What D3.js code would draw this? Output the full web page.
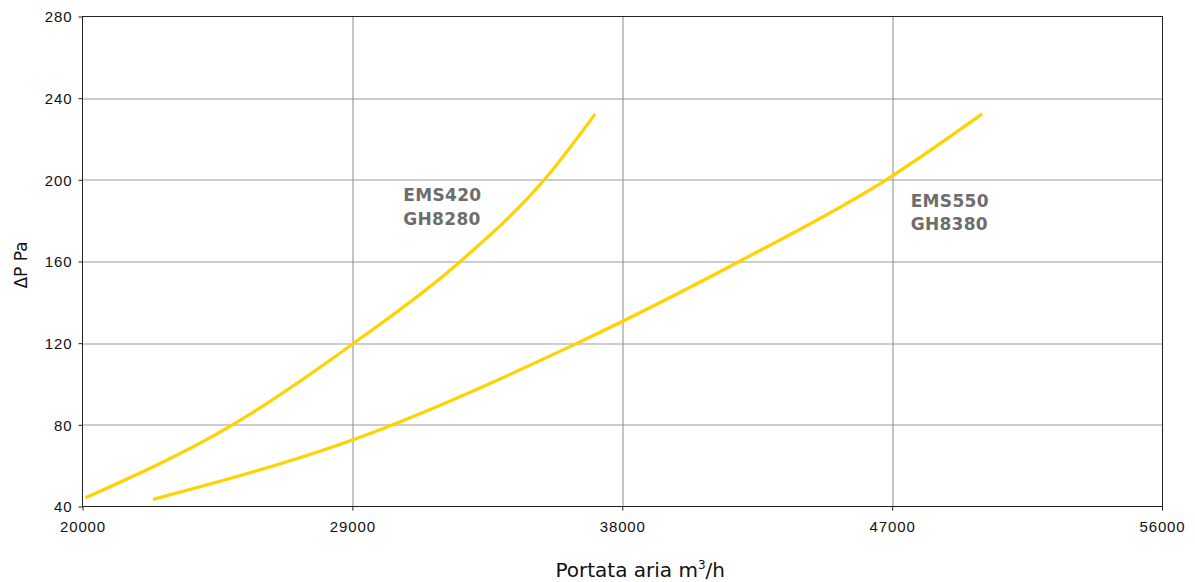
<!DOCTYPE html>
<html>
<head>
<meta charset="utf-8">
<script src="https://cdn.jsdelivr.net/npm/d3@7"></script>
<style>
  body { margin: 0; background: #fff; }
  svg { display: block; font-family: "DejaVu Sans", sans-serif; }
</style>
</head>
<body>
<div id="grafico"></div>
<script>
// valori
const xTicks = [20000, 29000, 38000, 47000, 56000];
const yTicks = [40, 80, 120, 160, 200, 240, 280];

const ems420Portata = [20100, 25000, 29000, 32600, 35400, 37100];
const ems420Dp      = [44.3, 80, 119.5, 160, 200, 232.3];

const ems550Portata = [22350, 29000, 36500, 41900, 46800, 50000];
const ems550Dp      = [43.5, 72.6, 120, 160, 200, 232.3];

const etichette = [
    { righe: ["EMS420", "GH8280"], x: 30700, y: 189.4 },
    { righe: ["EMS550", "GH8380"], x: 47620, y: 186.9 }
];

function crtaj() {
    const margin = { top: 16.5, right: 33, bottom: 75.5, left: 82.5 };
    const W = 1195, H = 582;
    const width = W - margin.left - margin.right;
    const height = H - margin.top - margin.bottom;

    const svg = d3.select("#grafico").append("svg")
        .attr("width", W)
        .attr("height", H)
        .append("g")
        .attr("transform", "translate(" + margin.left + "," + margin.top + ")");

    const x = d3.scaleLinear().domain([20000, 56000]).range([0, width]);
    const y = d3.scaleLinear().domain([40, 280]).range([height, 0]);

    // griglia
    svg.append("g").selectAll("line")
        .data(yTicks.slice(1, -1))
        .enter().append("line")
        .attr("x1", 0).attr("x2", width)
        .attr("y1", d => Math.round(y(d)) + 0.5)
        .attr("y2", d => Math.round(y(d)) + 0.5)
        .attr("stroke", "#9a9a9a");

    svg.append("g").selectAll("line")
        .data(xTicks.slice(1, -1))
        .enter().append("line")
        .attr("y1", 0).attr("y2", height)
        .attr("x1", d => Math.round(x(d)) + 0.5)
        .attr("x2", d => Math.round(x(d)) + 0.5)
        .attr("stroke", "#8a8a8a");

    // bordo
    svg.append("rect")
        .attr("x", 0).attr("y", 0)
        .attr("width", Math.round(width))
        .attr("height", height)
        .attr("fill", "none")
        .attr("stroke", "#222");

    // assi
    const assey = svg.append("g")
        .call(d3.axisLeft(y).tickValues(yTicks).tickSize(4).tickPadding(6).tickFormat(d3.format("d")));
    assey.select(".domain").remove();
    assey.selectAll("line").attr("stroke", "#222");
    assey.selectAll("text")
        .attr("font-size", "15px")
        .attr("letter-spacing", "0.9px")
        .attr("fill", "#111")
        .attr("dy", "0.36em");

    const assex = svg.append("g")
        .attr("transform", "translate(0," + height + ")")
        .call(d3.axisBottom(x).tickValues(xTicks).tickSize(4).tickPadding(11).tickFormat(d3.format("d")));
    assex.select(".domain").remove();
    assex.selectAll("line").attr("stroke", "#222");
    assex.selectAll("text")
        .attr("font-size", "15px")
        .attr("letter-spacing", "0.9px")
        .attr("fill", "#111");

    // curve
    const linea = d3.line()
        .x(d => x(d[0]))
        .y(d => y(d[1]))
        .curve(d3.curveMonotoneX);

    [[ems420Portata, ems420Dp], [ems550Portata, ems550Dp]].forEach(s => {
        svg.append("path")
            .datum(s[0].map((v, i) => [v, s[1][i]]))
            .attr("d", linea)
            .attr("fill", "none")
            .attr("stroke", "#FFD200")
            .attr("stroke-width", 3.2)
            .attr("stroke-linecap", "butt");
    });

    // etichette curve
    etichette.forEach(e => {
        const t = svg.append("text")
            .attr("x", x(e.x))
            .attr("y", y(e.y))
            .attr("fill", "#6d6d6d")
            .attr("font-size", "17px")
            .attr("font-weight", "bold")
            .attr("letter-spacing", "0.3px");
        e.righe.forEach((r, i) => {
            t.append("tspan")
                .attr("x", x(e.x))
                .attr("dy", i === 0 ? 0 : 23.5)
                .text(r);
        });
    });

    // titoli assi
    const tx = svg.append("text")
        .attr("x", width / 2 + 18)
        .attr("y", height + 70)
        .attr("text-anchor", "middle")
        .attr("font-size", "20px")
        .attr("fill", "#111")
        .text("Portata aria m");
    tx.append("tspan").attr("dy", -8).attr("font-size", "12px").text("3");
    tx.append("tspan").attr("dy", 8).text("/h");

    svg.append("text")
        .attr("transform", "rotate(-90)")
        .attr("x", -248.5)
        .attr("y", -margin.left + 27)
        .attr("text-anchor", "middle")
        .attr("font-size", "17px")
        .attr("fill", "#111")
        .text("ΔP Pa");
}

crtaj();
</script>
</body>
</html>
